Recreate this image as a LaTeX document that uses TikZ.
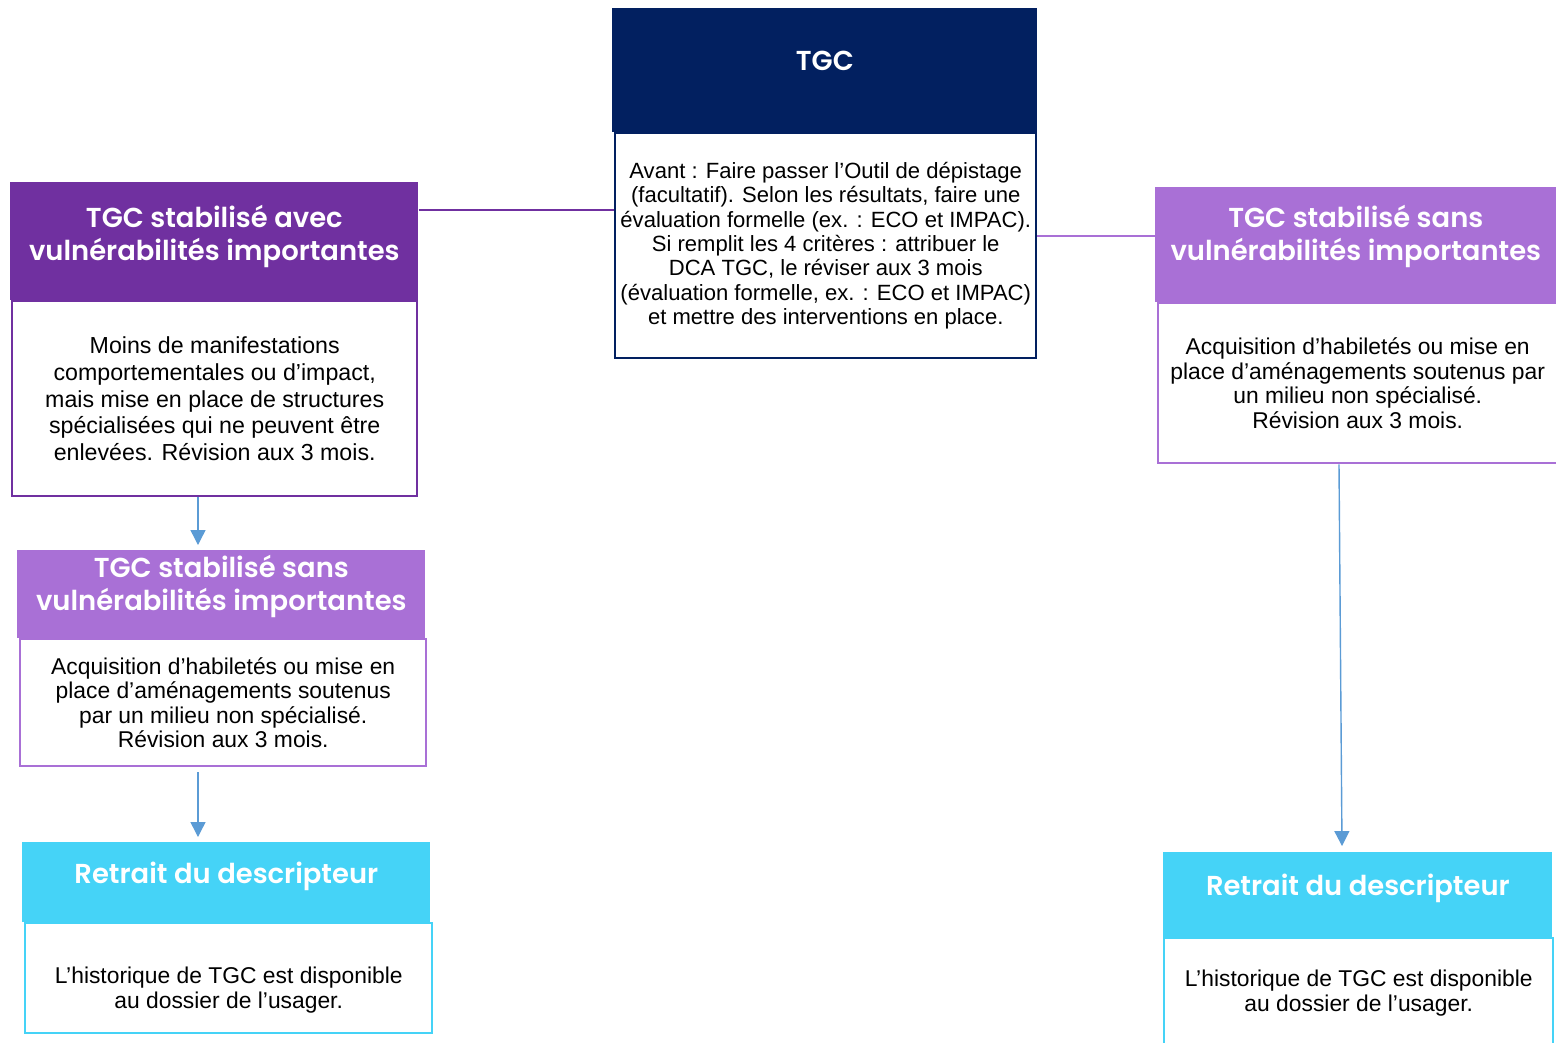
\documentclass[tikz,border=0pt]{standalone}
\usepackage{fontspec}
\setmainfont{Liberation Sans}
\newfontfamily\titrefont{Poppins SemiBold}
\usetikzlibrary{arrows.meta}
\definecolor{marine}{HTML}{022060}
\definecolor{violetF}{HTML}{7030A0}
\definecolor{violetC}{HTML}{A970D6}
\definecolor{cyanR}{HTML}{45D3F7}
\definecolor{bleuF}{HTML}{5B9BD5}
\def\pxl{0.02cm}
\tikzset{
  entete/.style={anchor=north west, inner sep=0pt, fill=#1},
  corps/.style={anchor=north west, inner sep=0pt, draw=#1, line width=1.4pt, fill=white,
    align=center, font=\fontsize{13}{13.9}\selectfont},
  texte/.style={align=center, font=\fontsize{13}{13.9}\selectfont},
  titre/.style={text=white, align=center, font=\titrefont\fontsize{15.6}{18.7}\selectfont},
  lien/.style={draw=#1, line width=1.2pt},
  fleche/.style={draw=bleuF, line width=0.8pt, -{Triangle[width=8.5pt,length=8.5pt]}},
}
\begin{document}
\begin{tikzpicture}[x=\pxl, y=-\pxl]
\useasboundingbox (0,0) rectangle (1556,1042);
% TGC
\node[entete=marine, minimum width=425*\pxl, minimum height=124*\pxl] (tgcH) at (612,8) {};
\node[titre] (tgcT) at ([yshift=0.18cm]tgcH.center) {TGC};
\node[corps=marine, minimum width=421*\pxl, minimum height=225*\pxl,
  font=\fontsize{12.55}{13.9}\selectfont] (tgcB) at (614,132)
  {Avant : Faire passer l'Outil de dépistage\\ (facultatif). Selon les résultats, faire une\\
   évaluation formelle (ex. : ECO et IMPAC).\\ Si remplit les 4 critères : attribuer le\\
   DCA TGC, le réviser aux 3 mois\\ (évaluation formelle, ex. : ECO et IMPAC)\\
   et mettre des interventions en place.};
% avec vulnerabilites
\node[entete=violetF, minimum width=408*\pxl, minimum height=118*\pxl] (avecH) at (10,182) {};
\node[titre] (avecT) at ([yshift=0.1cm]avecH.center) {TGC stabilisé avec\\ vulnérabilités importantes};
\node[corps=violetF, minimum width=405*\pxl, minimum height=195*\pxl,
  font=\fontsize{13.2}{15.3}\selectfont] (avecB) at (11,300)
  {Moins de manifestations\\ comportementales ou d'impact,\\ mais mise en place de structures\\
   spécialisées qui ne peuvent être\\ enlevées. Révision aux 3 mois.};
% sans vulnerabilites (droite)
\node[entete=violetC, minimum width=401*\pxl, minimum height=115*\pxl] (sansH) at (1155,187) {};
\node[titre] (sansT) at ([yshift=0.17cm]sansH.center) {TGC stabilisé sans\\ vulnérabilités importantes};
\node[corps=violetC, minimum width=399*\pxl, minimum height=160*\pxl] (sansB) at (1157,302)
  {Acquisition d'habiletés ou mise en\\ place d'aménagements soutenus par\\
   un milieu non spécialisé.\\ Révision aux 3 mois.};
% sans vulnerabilites (gauche)
\node[entete=violetC, minimum width=408*\pxl, minimum height=88*\pxl] (sans2H) at (17,550) {};
\node[titre] (sans2T) at ([yshift=0.15cm]sans2H.center) {TGC stabilisé sans\\ vulnérabilités importantes};
\node[corps=violetC, minimum width=406*\pxl, minimum height=127*\pxl] (sans2B) at (19,638)
  {Acquisition d'habiletés ou mise en\\ place d'aménagements soutenus\\
   par un milieu non spécialisé.\\ Révision aux 3 mois.};
% retrait gauche
\node[entete=cyanR, minimum width=408*\pxl, minimum height=80*\pxl] (retGH) at (22,842) {};
\node[titre] (retGT) at ([yshift=0.12cm]retGH.center) {Retrait du descripteur};
\node[corps=cyanR, minimum width=407*\pxl, minimum height=110*\pxl] (retGB) at (24,922) {};
\node[texte] (retGX) at ([yshift=-0.24cm]retGB.center)
  {L'historique de TGC est disponible\\ au dossier de l'usager.};
% retrait droite
\node[entete=cyanR, minimum width=389*\pxl, minimum height=85*\pxl] (retDH) at (1163,852) {};
\node[titre] (retDT) at ([yshift=0.13cm]retDH.center) {Retrait du descripteur};
\node[corps=cyanR, minimum width=389*\pxl, minimum height=110*\pxl] (retDB) at (1163,937)
  {L'historique de TGC est disponible\\ au dossier de l'usager.};
% liens
\coordinate (g) at ([yshift=-28*\pxl]avecH.north east);
\coordinate (d) at ([yshift=-49*\pxl]sansH.north west);
\draw[lien=violetF] (g) -- (g -| tgcB.west);
\draw[lien=violetC] (d -| tgcB.east) -- (d);
\draw[fleche] (avecB.south -| 198,0) -- ([yshift=5*\pxl]sans2H.north -| 198,0);
\draw[fleche] ([yshift=-5*\pxl]sans2B.south -| 198,0) -- ([yshift=5*\pxl]retGH.north -| 198,0);
\draw[fleche] (sansB.south -| 1339,0) -- ([yshift=6*\pxl]retDH.north -| 1342,0);
\end{tikzpicture}
\end{document}
